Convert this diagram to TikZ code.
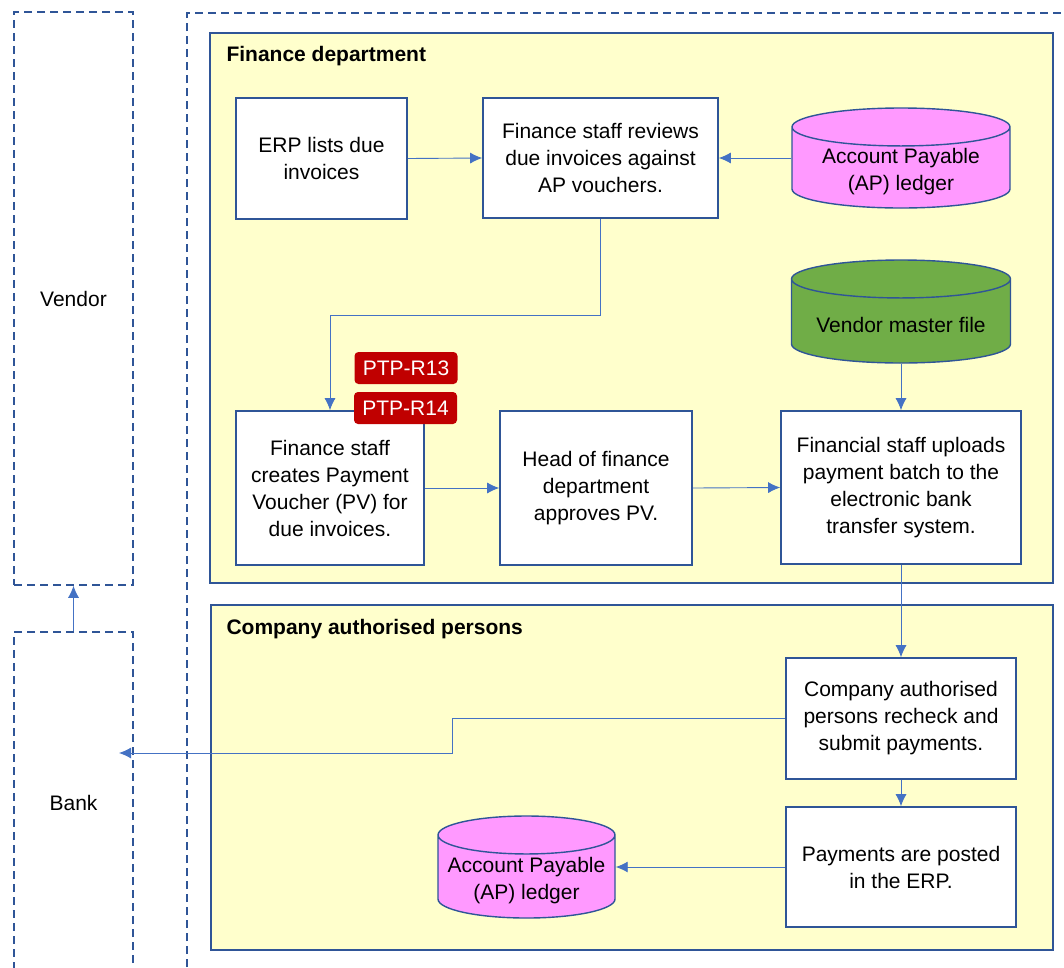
\documentclass[tikz,border=0pt]{standalone}
\usepackage{fontspec}
\setmainfont{Liberation Sans}
\usetikzlibrary{shapes.geometric,arrows.meta}

\definecolor{bdr}{HTML}{2F5597}
\definecolor{lnk}{HTML}{4472C4}
\definecolor{deptYel}{HTML}{FFFFCC}
\definecolor{apPink}{HTML}{FF99FF}
\definecolor{vmGreen}{HTML}{70AD47}
\definecolor{ctrlRed}{HTML}{C00000}

\tikzset{
	lane/.style={draw=bdr,line width=1.5pt,dash pattern=on 8pt off 5pt},
	dept/.style={draw=bdr,fill=deptYel,line width=1.6pt},
	deptname/.style={anchor=west,font=\fontsize{21}{27}\selectfont\bfseries},
	procbox/.style={draw=bdr,fill=white,line width=1.6pt,align=center,inner sep=0},
	dbase/.style={draw=bdr,line width=1.4pt,cylinder,shape border rotate=90,aspect=0.23,inner sep=0,anchor=shape center,fill=#1},
	dbtext/.style={label={[align=center,yshift=-4pt]center:#1}},
	ctrl/.style={fill=ctrlRed,rounded corners=4pt,text=white,minimum width=103pt,minimum height=32pt,inner sep=0},
	flow/.style={draw=lnk,line width=0.9pt,-{Latex[length=12pt,width=11pt]}}
}
\newcommand{\dbgap}{\hspace*{165pt}}

\begin{document}
\begin{tikzpicture}[x=1pt,y=-1pt,font=\fontsize{21}{27}\selectfont]
	\useasboundingbox (0,0) rectangle (1064,967);
	\node[lane,minimum width=119pt,minimum height=573pt] (vendor) at (73.5,298.5) {Vendor};
	\node[lane,minimum width=119pt,minimum height=342pt] (bank) at (73.5,803) {Bank};
	\draw[lane] (187,980) -- (187,13) -- (1080,13);
	\draw[dept] (210,33) rectangle (1053,583);
	\draw[dept] (211,605) rectangle (1053,950);
	\node[deptname] (finTitle) at (223,56) {Finance department};
	\node[deptname] (capTitle) at (223,629) {Company authorised persons};

	\node[procbox,minimum width=171pt,minimum height=121pt] (erp) at (321.5,158.5) {ERP lists due\\invoices};
	\node[procbox,minimum width=235pt,minimum height=120pt] (review) at (600.5,158) {Finance staff reviews\\due invoices against\\AP vouchers.};
	\node[dbase=apPink,minimum width=218pt,minimum height=100pt,dbtext={{Account Payable\\(AP) ledger}}] (apTop) at (901,158) {\dbgap};
	\node[dbase=vmGreen,minimum width=219pt,minimum height=103pt,dbtext={Vendor master file}] (vmf) at (901,311.5) {\dbgap};
	\node[procbox,minimum width=188pt,minimum height=154pt] (create) at (330,488) {Finance staff\\creates Payment\\Voucher (PV) for\\due invoices.};
	\node[procbox,minimum width=192pt,minimum height=154pt] (head) at (596,488) {Head of finance\\department\\approves PV.};
	\node[procbox,minimum width=240pt,minimum height=153pt] (upload) at (901,487.5) {Financial staff uploads\\payment batch to the\\electronic bank\\transfer system.};
	\node[ctrl] (r13) at (406,368) {PTP-R13};
	\node[ctrl] (r14) at (405.5,408) {PTP-R14};
	\node[procbox,minimum width=230pt,minimum height=121pt] (recheck) at (901,718.5) {Company authorised\\persons recheck and\\submit payments.};
	\node[procbox,minimum width=230pt,minimum height=120pt] (post) at (901,867) {Payments are posted\\in the ERP.};
	\node[dbase=apPink,minimum width=177pt,minimum height=102pt,dbtext={{Account Payable\\(AP) ledger}}] (apBot) at (526.5,867) {\dbgap};
	\coordinate (bankIn) at (119,753);

	\draw[flow] (erp.east) -- (review.west);
	\draw[flow] (apTop.west |- review.east) -- (review.east);
	\draw[flow] (review.south) -- ++(0,97) -| (create.north);
	\draw[flow] (create.east) -- (head.west);
	\draw[flow] (head.east) -- (upload.west);
	\draw[flow] (vmf.south) -- (upload.north);
	\draw[flow] (upload.south) -- (recheck.north);
	\draw[flow] (recheck.south) -- (post.north);
	\draw[flow] (post.west) -- (apBot.east |- post.west);
	\draw[flow] (recheck.west) -- ++(-333,0) |- (bankIn);
	\draw[flow] (bank.north) -- (vendor.south);
\end{tikzpicture}
\end{document}
